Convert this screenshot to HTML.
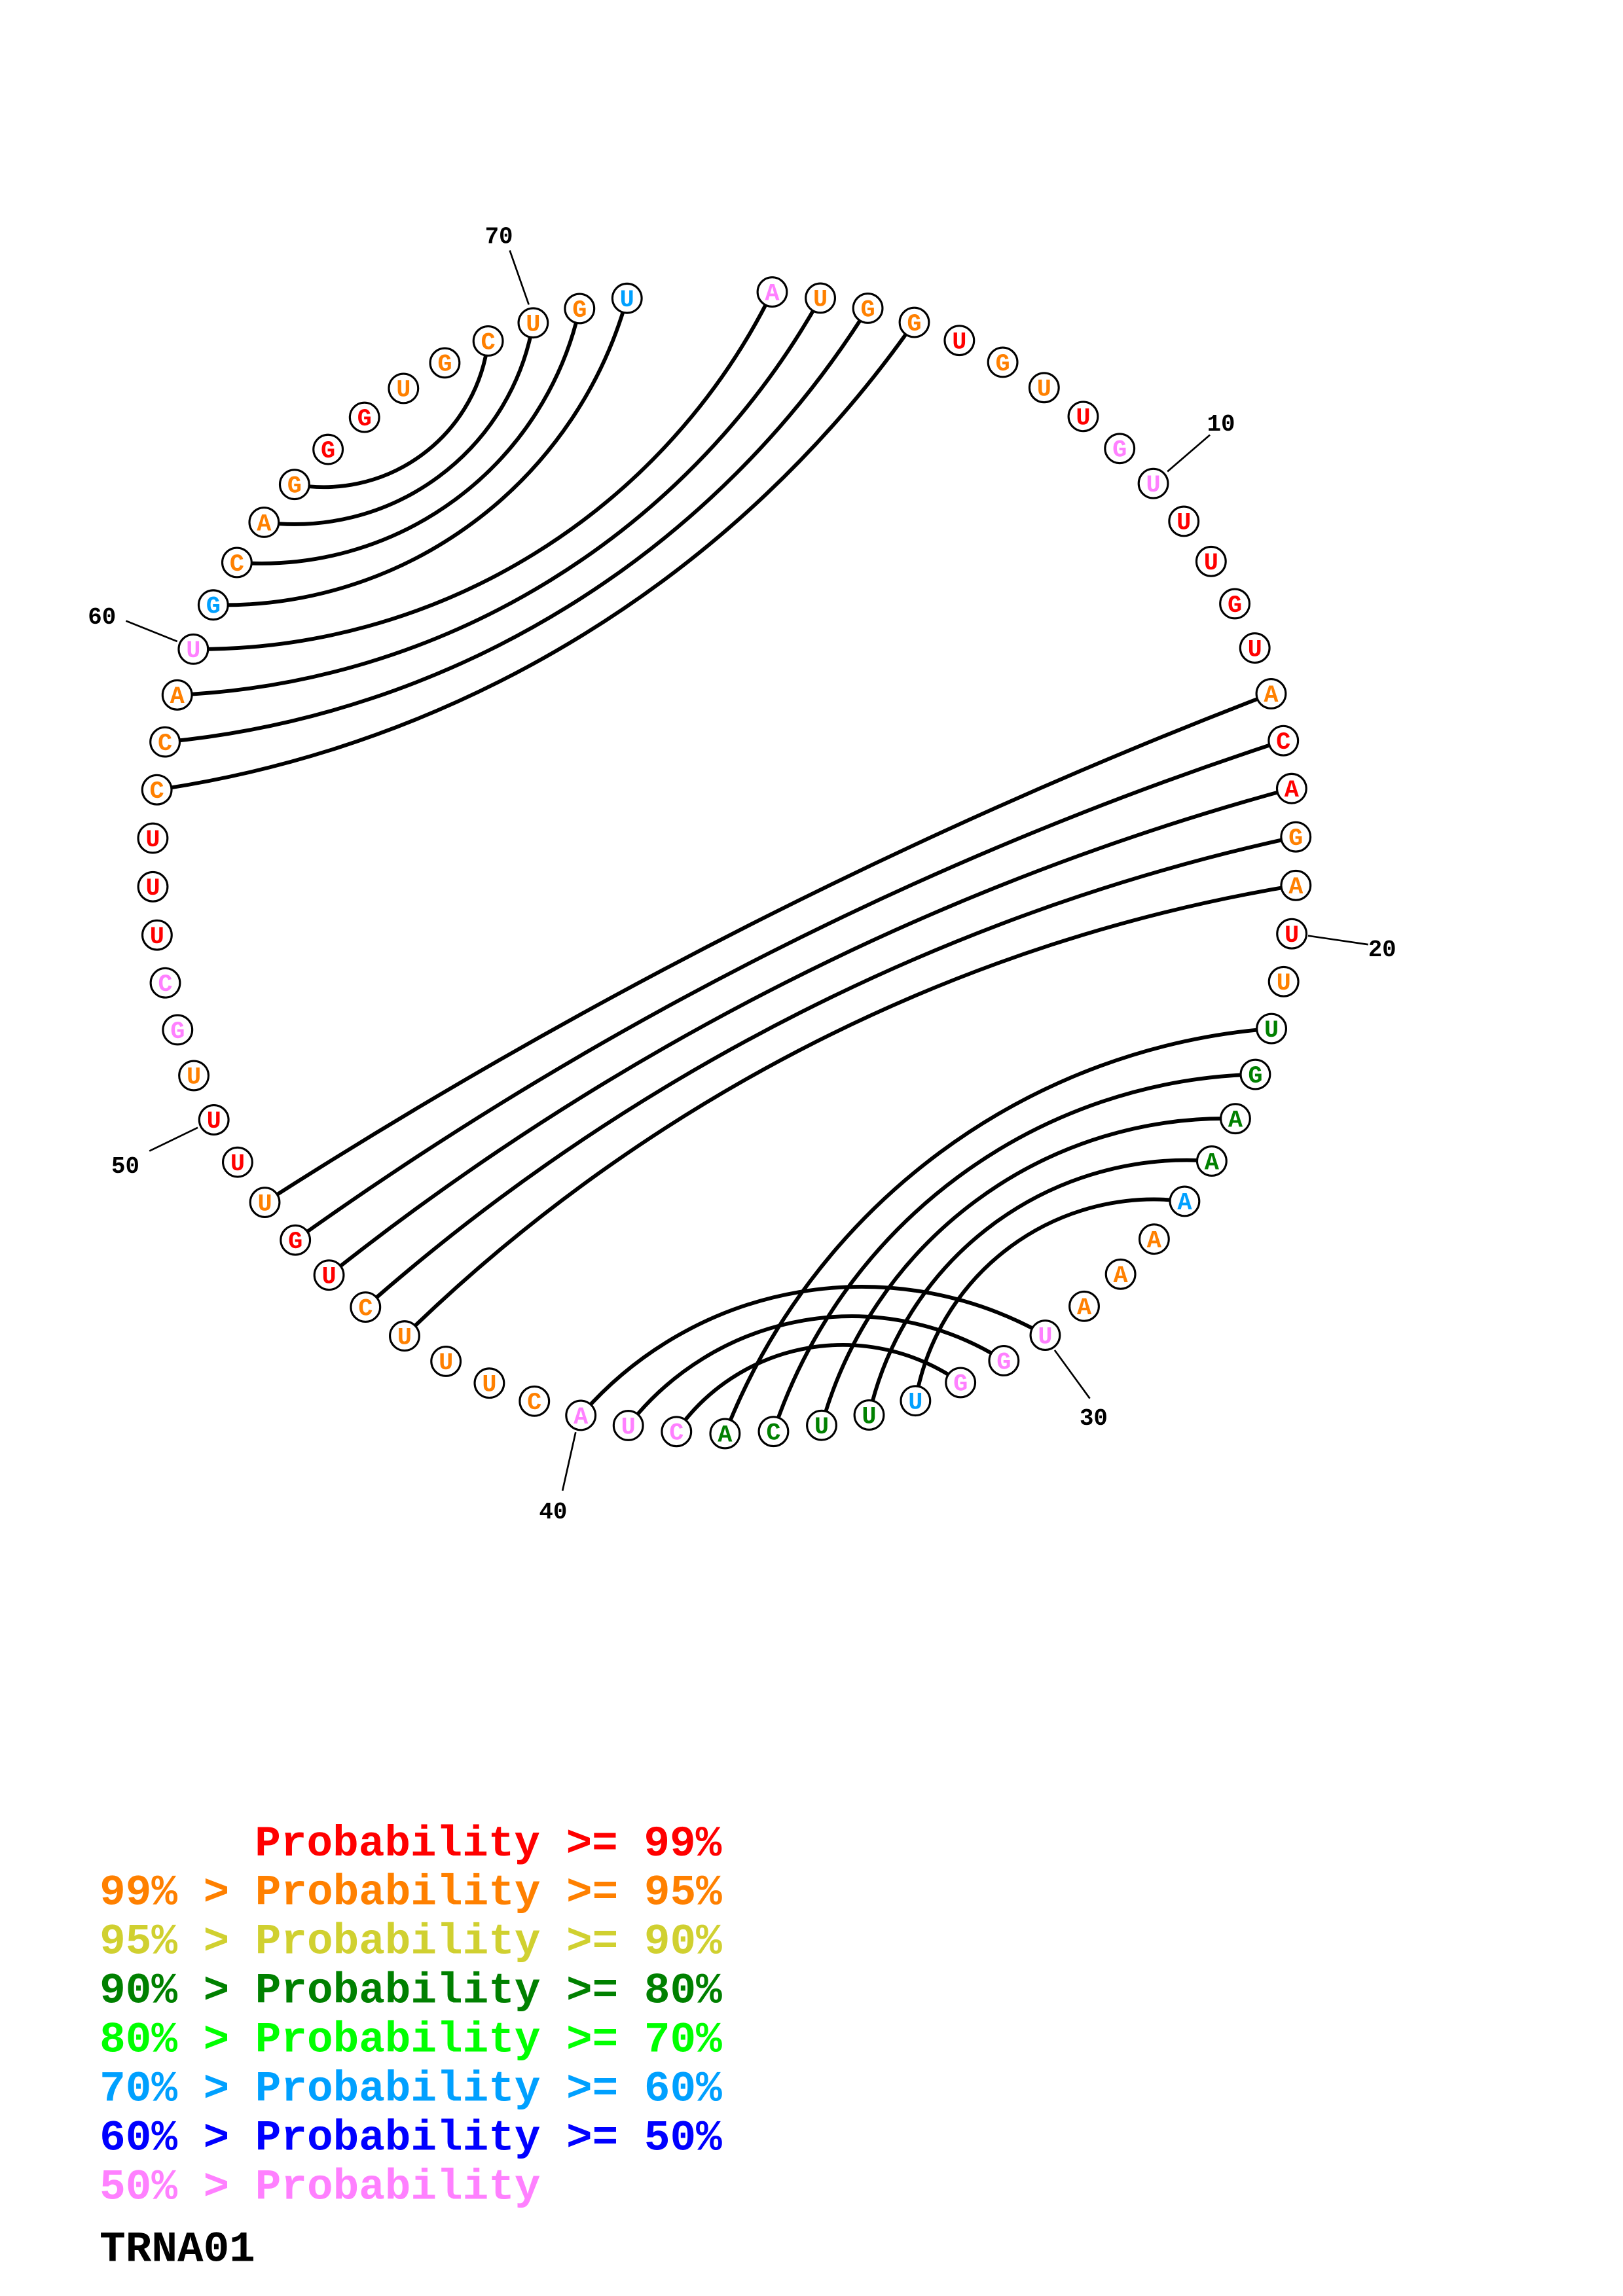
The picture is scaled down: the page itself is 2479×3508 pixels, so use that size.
<!DOCTYPE html>
<html><head><meta charset="utf-8"><style>
html,body{margin:0;padding:0;background:#fff;}
svg{display:block;}
text{font-family:"Liberation Mono","DejaVu Sans Mono",monospace;font-weight:bold;white-space:pre;}
</style></head><body>
<svg id="s" width="2479" height="3508" viewBox="0 0 1108 1567.9" xmlns="http://www.w3.org/2000/svg">
<rect width="1108" height="1567.9" fill="#fff"/>
<g id="arcs" fill="none" stroke="#000" stroke-width="2.6"></g>
<g id="ticks" stroke="#000" stroke-width="1.2">
<line x1="797" y1="322" x2="826" y2="297"/>
<line x1="893" y1="639" x2="934" y2="645"/>
<line x1="720" y1="922" x2="744" y2="955"/>
<line x1="393" y1="978" x2="384" y2="1018"/>
<line x1="135" y1="770" x2="102" y2="786"/>
<line x1="121" y1="438" x2="86" y2="424"/>
<line x1="361" y1="208" x2="348" y2="171"/>
</g>
<g font-size="16" fill="#000">
<text x="824" y="294">10</text>
<text x="934" y="653">20</text>
<text x="737" y="973">30</text>
<text x="368" y="1037">40</text>
<text x="76" y="801">50</text>
<text x="60" y="426">60</text>
<text x="331" y="166">70</text>
</g>
<g id="nts"></g>
<g font-size="29.5">
<text x="174" y="1267" fill="#ff0000">Probability &gt;= 99%</text>
<text x="68" y="1300.5" fill="#ff8000">99% &gt; Probability &gt;= 95%</text>
<text x="68" y="1334" fill="#d0d030">95% &gt; Probability &gt;= 90%</text>
<text x="68" y="1367.5" fill="#008000">90% &gt; Probability &gt;= 80%</text>
<text x="68" y="1401" fill="#00ff00">80% &gt; Probability &gt;= 70%</text>
<text x="68" y="1434.5" fill="#00a0ff">70% &gt; Probability &gt;= 60%</text>
<text x="68" y="1468" fill="#0000ff">60% &gt; Probability &gt;= 50%</text>
<text x="68" y="1501.5" fill="#ff80ff">50% &gt; Probability</text>
<text x="68" y="1544" fill="#000">TRNA01</text>
</g>
</svg>
<script>
(function(){
var NS="http://www.w3.org/2000/svg";
var seq="AUGGUGUUGUUUGUACAGAUUUGAAAAAAUGGUUUCACUACUUUCUGUUUUGCUUUCCAUGCAGGGUGCUGU";
var cmap={r:"#ff0000",o:"#ff8000",P:"#ff80ff",G:"#008000",B:"#00a0ff"};
var c=["P","o","o","o","r","o","o","r","P","P","r","r","r","r","o","r","r","o","o","r",
"o","G","G","G","G","B","o","o","o","P","P","P","B","G","G","G","G","P","P","P",
"o","o","o","o","o","r","r","o","r","r","o","P","P","r","r","r","o","o","o","P",
"B","o","o","o","r","r","o","o","o","o","o","B"];
var cx=494.5,cy=588.5,R=390.5,s=360/74,t1=4.8;
function pos(i){var a=(t1+(i-1)*s)*Math.PI/180;return [cx+R*Math.sin(a),cy-R*Math.cos(a),t1+(i-1)*s];}
var pairs=[[1,60],[2,59],[3,58],[4,57],[64,69],[63,70],[62,71],[61,72],[15,48],[16,47],[17,46],[18,45],[19,44],
[22,37],[23,36],[24,35],[25,34],[26,33],[30,40],[31,39],[32,38]];
var arcs=document.getElementById("arcs");
pairs.forEach(function(p){
 var A=pos(p[0]),B=pos(p[1]);
 var d=((B[2]-A[2])%360+360)%360;
 var from=A,to=B;
 if(d>180){from=B;to=A;d=360-d;}
 var chord=Math.hypot(to[0]-from[0],to[1]-from[1]);
 var turn=0.6*(180-d)*Math.PI/180;
 var r=chord/(2*Math.sin(turn/2));
 var path=document.createElementNS(NS,"path");
 path.setAttribute("d","M"+from[0].toFixed(2)+" "+from[1].toFixed(2)+" A"+r.toFixed(2)+" "+r.toFixed(2)+" 0 0 0 "+to[0].toFixed(2)+" "+to[1].toFixed(2));
 arcs.appendChild(path);
});
var g=document.getElementById("nts");
for(var i=1;i<=72;i++){
 var p=pos(i);
 var ci=document.createElementNS(NS,"circle");
 ci.setAttribute("cx",p[0]);ci.setAttribute("cy",p[1]);ci.setAttribute("r","10");
 ci.setAttribute("fill","#fff");ci.setAttribute("stroke","#000");ci.setAttribute("stroke-width","1.4");
 g.appendChild(ci);
 var t=document.createElementNS(NS,"text");
 t.setAttribute("x",p[0]);t.setAttribute("y",p[1]+5.5);t.setAttribute("text-anchor","middle");
 t.setAttribute("font-size","16.5");t.setAttribute("fill",cmap[c[i-1]]);
 t.textContent=seq[i-1];
 g.appendChild(t);
}
})();
</script>
</body></html>
